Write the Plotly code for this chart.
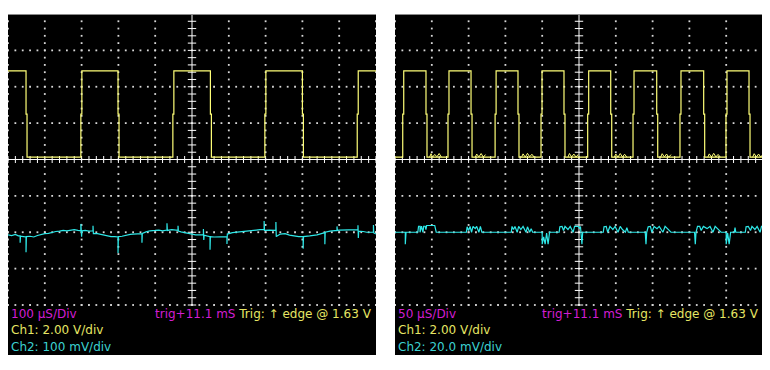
import plotly.graph_objects as go

W, H = 770, 370

# ---------------- data ----------------
# panel settings
time_per_div = [100, 50]        # µs / div  (left, right)
ch1_v_per_div = [2.0, 2.0]      # V / div
ch2_mv_per_div = [100, 20]      # mV / div
half_span_us = [500, 250]       # screen is 10 div wide, centred on 0

# Ch1 square wave (V), edge times in µs relative to screen centre
ch1_high = 4.87
ch1_low = 0.13
ch1_mid = 2.50
left_ch1_rises = [-302, -52, 198, 449]
left_ch1_falls = [-451, -201, 50, 300]
right_ch1_rises = [-239.5, -178, -114, -51.6, 11.8, 73.4, 137.2, 199.7]
right_ch1_falls = [-207.9, -146.7, -82.9, -20.4, 43.1, 105.6, 169.4, 231]
sample_dt = [2.7, 1.36]         # µs between samples on an edge

# small ripple visible on the low level of Ch1 in the right capture (µs, V)
right_ch1_ripple_t = [-203, -201, -199, -196, -193, -190, -187, None,
                      -141, -139, -136, -133, -130, -127, None,
                      -78, -76, -73, -70, -67, -64, -61, None,
                      -15, -13, -10, -7, -4, -1, None,
                      48, 50, 53, 56, 59, 62, 65, None,
                      111, 113, 116, 119, 122, 125, None,
                      175, 177, 180, 183, 186, 189, 192, None,
                      236, 238, 241, 244, 247, 250]
right_ch1_ripple_v = [0.13, 0.32, 0.13, 0.28, 0.15, 0.33, 0.13, None,
                      0.13, 0.30, 0.14, 0.33, 0.13, 0.27, None,
                      0.13, 0.31, 0.13, 0.34, 0.15, 0.29, 0.13, None,
                      0.13, 0.33, 0.14, 0.30, 0.13, 0.28, None,
                      0.13, 0.30, 0.13, 0.33, 0.14, 0.29, 0.13, None,
                      0.13, 0.32, 0.14, 0.30, 0.13, 0.27, None,
                      0.13, 0.31, 0.13, 0.34, 0.14, 0.28, 0.13, None,
                      0.13, 0.32, 0.14, 0.30, 0.13, 0.29]

# Ch2 left (100 mV/div), time µs / level mV
left_ch2_t = [-500, -490, -480, -472, -467, -467, -466, -458, -451, -451, -450, -440, -430, -420,
              -410, -400, -390, -380, -370, -360, -350, -340, -330, -320, -310, -302, -302, -301,
              -300, -299, -290, -280, -269, -269, -268, -260, -250, -240, -230, -220, -210, -201,
              -201, -200, -190, -180, -168, -160, -145, -136, -136, -135, -125, -114, -100, -90,
              -80, -68, -68, -67, -55, -38, -38, -37, -30, -20, -10, 0, 10, 31, 31, 32, 33, 40,
              49, 49, 50, 60, 70, 80, 95, 95, 96, 110, 125, 140, 155, 170, 185, 196, 196, 197,
              210, 228, 228, 229, 240, 253, 265, 280, 290, 302, 302, 303, 320, 340, 361, 361, 362,
              375, 394, 394, 395, 400, 420, 440, 451, 451, 452, 453, 465, 475, 493, 493, 494, 500]
left_ch2_mv = [-207, -209, -206, -210, -210, -229, -211, -212, -213, -255, -212, -211, -213, -209,
               -206, -204, -203, -200, -198, -197, -195, -196, -194, -193, -195, -196, -177, -199,
               -212, -196, -195, -197, -196, -182, -204, -203, -205, -208, -211, -212, -212, -213,
               -257, -212, -211, -208, -206, -205, -204, -204, -229, -203, -199, -196, -195, -194,
               -196, -194, -175, -195, -193, -195, -182, -197, -199, -201, -203, -206, -207, -207,
               -191, -221, -208, -210, -212, -248, -212, -213, -213, -212, -212, -232, -205, -201,
               -199, -198, -196, -194, -193, -192, -169, -195, -194, -195, -172, -212, -205, -204,
               -208, -211, -212, -212, -245, -212, -210, -207, -201, -233, -200, -197, -195, -184,
               -195, -194, -193, -193, -193, -181, -216, -197, -198, -200, -200, -180, -202, -205]

# Ch2 right (20 mV/div), time µs / level mV
right_ch2_t = [-250, -236, -236, -235, -219, -218, -216, -216, -214, -212, -211, -209, -208, -207,
               -196, -194, -153, -152, -150, -148, -146, -144, -141, -139, -136, -134, -132, -92,
               -91, -89, -87, -84, -82, -79, -76, -72, -70, -67, -65, -63, -50, -50, -48, -46, -44,
               -42, -40, -27, -26, -23, -21, -19, -15, -12, -8, -6, -1, 1, 2, 3, 4, 5, 33, 34, 37,
               39, 42, 46, 49, 53, 56, 59, 63, 65, 67, 90, 91, 92, 94, 97, 99, 102, 106, 109, 114,
               117, 121, 125, 157, 158, 159, 161, 164, 166, 169, 174, 178, 182, 185, 189, 193, 200,
               200, 202, 204, 206, 211, 212, 213, 226, 227, 230, 233, 235, 239, 242, 246, 248, 250]
right_ch2_mv = [-40.0, -40.0, -46.6, -40.0, -40.0, -36.7, -36.7, -40.0, -36.7, -40.0, -36.7, -36.7,
                -38.5, -36.3, -36.3, -40.0, -40.0, -37.0, -39.0, -36.8, -40.0, -36.8, -38.0, -36.8,
                -40.0, -36.8, -40.0, -40.0, -36.8, -38.5, -36.8, -40.0, -36.8, -38.5, -36.8, -40.0,
                -37.0, -40.0, -38.0, -40.0, -40.0, -46.6, -42.5, -46.6, -40.5, -46.6, -40.0, -40.0,
                -37.0, -36.8, -39.0, -36.8, -38.5, -36.8, -40.0, -36.8, -36.8, -38.0, -36.8, -43.0,
                -46.6, -40.0, -40.0, -37.0, -36.8, -40.0, -36.8, -38.5, -36.8, -40.0, -36.8, -38.5,
                -40.0, -37.5, -40.0, -40.0, -46.6, -40.0, -37.0, -36.8, -40.0, -36.8, -38.0, -36.8,
                -40.0, -36.8, -38.5, -40.0, -40.0, -46.6, -40.0, -36.8, -36.8, -39.0, -36.8, -38.0,
                -36.8, -40.0, -36.8, -38.5, -40.0, -40.0, -46.6, -40.5, -46.6, -40.0, -40.0, -37.5,
                -40.0, -40.0, -37.0, -36.8, -39.0, -36.8, -38.5, -36.8, -40.0, -36.8, -36.8]

# on-screen texts
timebase_labels = ["100 µS/Div", "50 µS/Div"]
trig_delay_label = "trig+11.1 mS"
trig_label = "Trig: ↑ edge @ 1.63 V"
ch1_labels = ["Ch1: 2.00 V/div", "Ch1: 2.00 V/div"]
ch2_labels = ["Ch2: 100 mV/div", "Ch2: 20.0 mV/div"]

# ---------------- styling / layout ----------------
C_CH1 = "#ffff78"
C_CH2 = "#2ee8e8"
C_MAG = "#d21ed2"
C_YEL = "#e6e664"
C_CYN = "#3cd2d2"
FONT = "DejaVu Sans"

OFF = 8  # page body margin in the browser
# pixel geometry of each black panel (figure coordinates)
panel_px = [(8 - OFF, 376 - OFF), (395 - OFF, 763 - OFF)]
top_px, grid_bottom_px, bottom_px = 14 - OFF, 305 - OFF, 355 - OFF
div_y_px = (grid_bottom_px - top_px) / 8.0
y_top = 4.0
y_bottom = y_top - (bottom_px - top_px) / div_y_px


def ch1_steps(rises, falls, t0, t1, dt):
    events = sorted([(t, 'r') for t in rises] + [(t, 'f') for t in falls])
    level = ch1_low if events[0][1] == 'r' else ch1_high
    xs, ys = [t0], [level]
    for t, kind in events:
        new = ch1_high if kind == 'r' else ch1_low
        xs += [t, t, t + dt, t + dt]
        ys += [level, ch1_mid, ch1_mid, new]
        level = new
    xs.append(t1)
    ys.append(level)
    return xs, ys


fig = go.Figure()

panels = [
    dict(rises=left_ch1_rises, falls=left_ch1_falls, ch2_t=left_ch2_t, ch2_v=left_ch2_mv,
         rip_t=None, rip_v=None),
    dict(rises=right_ch1_rises, falls=right_ch1_falls, ch2_t=right_ch2_t, ch2_v=right_ch2_mv,
         rip_t=right_ch1_ripple_t, rip_v=right_ch1_ripple_v),
]

for i, p in enumerate(panels):
    xa = "x" if i == 0 else "x2"
    ya = "y" if i == 0 else "y2"
    tpd = time_per_div[i]
    # dotted graticule
    gx, gy = [], []
    for row in range(-4, 5):
        if row == 0:
            continue
        for k in range(0, 51):
            gx.append((-5 + k * 0.2) * tpd)
            gy.append(row)
    for col in range(-5, 6):
        if col == 0:
            continue
        for k in range(0, 41):
            gx.append(col * tpd)
            gy.append(-4 + k * 0.2)
    fig.add_trace(go.Scatter(x=gx, y=gy, mode="markers", xaxis=xa, yaxis=ya,
                             marker=dict(symbol="square", size=1.8, color="#d8d8d8", line_width=0),
                             hoverinfo="skip", showlegend=False))
    # centre axes
    fig.add_trace(go.Scatter(x=[-5 * tpd, 5 * tpd], y=[0, 0], mode="lines", xaxis=xa, yaxis=ya,
                             line=dict(color="white", width=1), hoverinfo="skip", showlegend=False))
    fig.add_trace(go.Scatter(x=[0, 0], y=[-4, 4], mode="lines", xaxis=xa, yaxis=ya,
                             line=dict(color="white", width=1), hoverinfo="skip", showlegend=False))
    # minor ticks on centre axes
    fig.add_trace(go.Scatter(x=[(-5 + k * 0.2) * tpd for k in range(51)], y=[0] * 51,
                             mode="markers", xaxis=xa, yaxis=ya,
                             marker=dict(symbol="line-ns", size=5, line=dict(color="white", width=1)),
                             hoverinfo="skip", showlegend=False))
    fig.add_trace(go.Scatter(x=[0] * 41, y=[-4 + k * 0.2 for k in range(41)],
                             mode="markers", xaxis=xa, yaxis=ya,
                             marker=dict(symbol="line-ew", size=6, line=dict(color="white", width=1)),
                             hoverinfo="skip", showlegend=False))
    # channel 2
    fig.add_trace(go.Scatter(x=p["ch2_t"], y=[v / ch2_mv_per_div[i] for v in p["ch2_v"]],
                             mode="lines", xaxis=xa, yaxis=ya,
                             line=dict(color=C_CH2, width=1.2), hoverinfo="skip", showlegend=False))
    # channel 1
    sx, sy = ch1_steps(p["rises"], p["falls"], -half_span_us[i], half_span_us[i], sample_dt[i])
    fig.add_trace(go.Scatter(x=sx, y=[v / ch1_v_per_div[i] for v in sy],
                             mode="lines", xaxis=xa, yaxis=ya,
                             line=dict(color=C_CH1, width=1.2), hoverinfo="skip", showlegend=False))
    if p["rip_t"] is not None:
        fig.add_trace(go.Scatter(x=p["rip_t"],
                                 y=[None if v is None else v / ch1_v_per_div[i] for v in p["rip_v"]],
                                 mode="lines", xaxis=xa, yaxis=ya, connectgaps=False,
                                 line=dict(color=C_CH1, width=1), hoverinfo="skip",
                                 showlegend=False))

axis_common = dict(showgrid=False, zeroline=False, showticklabels=False, ticks="",
                   showline=False, fixedrange=True)
fig.update_layout(
    width=W, height=H,
    margin=dict(l=0, r=0, t=0, b=0),
    paper_bgcolor="white",
    plot_bgcolor="black",
    xaxis=dict(domain=[panel_px[0][0] / W, panel_px[0][1] / W],
               range=[-half_span_us[0], half_span_us[0]], anchor="y", **axis_common),
    yaxis=dict(domain=[1 - bottom_px / H, 1 - top_px / H], range=[y_bottom, y_top],
               anchor="x", **axis_common),
    xaxis2=dict(domain=[panel_px[1][0] / W, panel_px[1][1] / W],
                range=[-half_span_us[1], half_span_us[1]], anchor="y2", **axis_common),
    yaxis2=dict(domain=[1 - bottom_px / H, 1 - top_px / H], range=[y_bottom, y_top],
                anchor="x2", **axis_common),
)

# panel border (top grey edge)
for (x0, x1) in panel_px:
    fig.add_shape(type="line", xref="paper", yref="paper", x0=x0 / W, x1=x1 / W,
                  y0=1 - (top_px + 0.5) / H, y1=1 - (top_px + 0.5) / H,
                  line=dict(color="#8a8a8a", width=1))


def label(text, px, py, color, anchor="left"):
    fig.add_annotation(text=text, x=px / W, y=1 - py / H, xref="paper", yref="paper",
                       xanchor=anchor, yanchor="middle", showarrow=False,
                       font=dict(family=FONT, size=12, color=color))


for i, (x0, x1) in enumerate(panel_px):
    label(timebase_labels[i], x0 + 1, 313.5 - OFF, C_MAG)
    label(f"<span style='color:{C_MAG}'>{trig_delay_label}</span> {trig_label}", x1 - 2, 313.5 - OFF,
          C_YEL, anchor="right")
    label(ch1_labels[i], x0 + 1, 330 - OFF, C_YEL)
    label(ch2_labels[i], x0 + 1, 347 - OFF, C_CYN)

fig.write_html("out.html")
